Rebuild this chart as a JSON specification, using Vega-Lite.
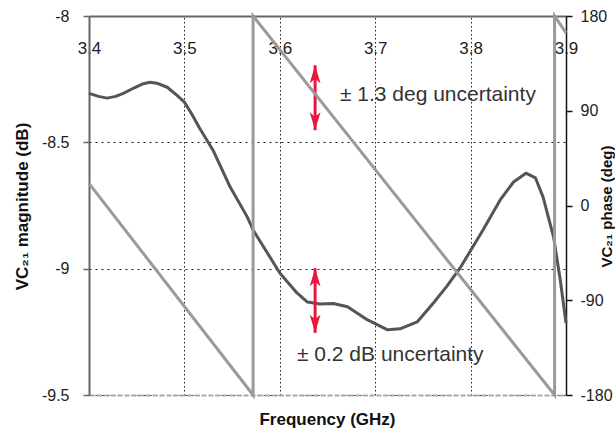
{
  "$schema": "https://vega.github.io/schema/vega-lite/v6.json",
  "width": 477,
  "height": 379,
  "autosize": {"type": "none"},
  "padding": {"left": 89, "top": 16, "right": 49, "bottom": 40},
  "background": "white",
  "config": {"view": {"stroke": null}, "font": "Liberation Sans"},
  "datasets": {
    "mag": [
      {"f": 3.400, "db": -8.306}, {"f": 3.410, "db": -8.318}, {"f": 3.419, "db": -8.325},
      {"f": 3.428, "db": -8.318}, {"f": 3.436, "db": -8.306}, {"f": 3.447, "db": -8.285},
      {"f": 3.457, "db": -8.268}, {"f": 3.464, "db": -8.262}, {"f": 3.471, "db": -8.266},
      {"f": 3.482, "db": -8.282}, {"f": 3.492, "db": -8.313}, {"f": 3.500, "db": -8.341},
      {"f": 3.508, "db": -8.390}, {"f": 3.516, "db": -8.444}, {"f": 3.530, "db": -8.531},
      {"f": 3.548, "db": -8.677}, {"f": 3.566, "db": -8.796}, {"f": 3.572, "db": -8.847},
      {"f": 3.587, "db": -8.938}, {"f": 3.600, "db": -9.017}, {"f": 3.618, "db": -9.096},
      {"f": 3.629, "db": -9.132}, {"f": 3.642, "db": -9.140}, {"f": 3.656, "db": -9.138},
      {"f": 3.671, "db": -9.151}, {"f": 3.692, "db": -9.203}, {"f": 3.713, "db": -9.242},
      {"f": 3.726, "db": -9.238}, {"f": 3.744, "db": -9.211}, {"f": 3.761, "db": -9.136},
      {"f": 3.775, "db": -9.070}, {"f": 3.789, "db": -8.997}, {"f": 3.813, "db": -8.847},
      {"f": 3.831, "db": -8.728}, {"f": 3.845, "db": -8.657}, {"f": 3.858, "db": -8.622},
      {"f": 3.868, "db": -8.641}, {"f": 3.876, "db": -8.717}, {"f": 3.887, "db": -8.875},
      {"f": 3.894, "db": -9.045}, {"f": 3.900, "db": -9.215}
    ],
    "phase": [
      {"i": 0, "f": 3.400, "deg": 21},
      {"i": 1, "f": 3.572, "deg": -180},
      {"i": 2, "f": 3.572, "deg": 180},
      {"i": 3, "f": 3.888, "deg": -180},
      {"i": 4, "f": 3.888, "deg": 180},
      {"i": 5, "f": 3.900, "deg": 164}
    ],
    "arrows": [
      {"f": 3.637, "db": -8.195, "db2": -8.452},
      {"f": 3.637, "db": -8.998, "db2": -9.254}
    ],
    "headsUp": [
      {"f": 3.637, "db": -8.195},
      {"f": 3.637, "db": -8.998}
    ],
    "headsDown": [
      {"f": 3.637, "db": -8.452},
      {"f": 3.637, "db": -9.254}
    ],
    "notes": [
      {"f": 3.663, "db": -8.314, "label": "± 1.3 deg uncertainty"},
      {"f": 3.618, "db": -9.341, "label": "± 0.2 dB uncertainty"}
    ]
  },
  "layer": [
    {
      "layer": [
        {
          "data": {"name": "mag"},
          "mark": {"type": "line", "color": "#555555", "strokeWidth": 3, "strokeJoin": "round"},
          "encoding": {
            "x": {
              "field": "f", "type": "quantitative",
              "scale": {"domain": [3.4, 3.9], "nice": false, "zero": false},
              "axis": {
                "orient": "top", "values": [3.4, 3.5, 3.6, 3.7, 3.8, 3.9], "format": ".1f",
                "title": null, "ticks": false, "labelPadding": -32, "labelBaseline": "middle",
                "labelFontSize": 17, "labelColor": "#222222", "labelFlush": false, "labelOverlap": false,
                "domainColor": "#666666", "domainWidth": 2,
                "grid": true, "gridColor": "#000000", "gridDash": [1.5, 2.5], "gridWidth": 1, "gridOpacity": 0.9
              }
            },
            "y": {
              "field": "db", "type": "quantitative",
              "scale": {"domain": [-9.5, -8], "nice": false, "zero": false},
              "axis": {
                "orient": "left", "values": [-8, -8.5, -9, -9.5],
                "labelExpr": "replace(format(datum.value, '~g'), '\u2212', '-')",
                "title": "VC₂₁ magnitude (dB)", "titleFontSize": 17, "titleFontWeight": "bold",
                "titleColor": "#111111", "titleAngle": 270, "titleX": -67, "titleY": 190,
                "titleBaseline": "middle", "titleAlign": "center",
                "labelFontSize": 16, "labelColor": "#222222", "labelPadding": 14,
                "tickSize": 6, "tickColor": "#666666", "tickWidth": 1.5,
                "domainColor": "#666666", "domainWidth": 2,
                "grid": true, "gridColor": "#000000", "gridDash": [2, 4], "gridWidth": 1, "gridOpacity": 0.9
              }
            }
          }
        },
        {
          "data": {"name": "arrows"},
          "mark": {"type": "rule", "color": "#e8173c", "strokeWidth": 3},
          "encoding": {
            "x": {"field": "f", "type": "quantitative"},
            "y": {"field": "db", "type": "quantitative"},
            "y2": {"field": "db2"}
          }
        },
        {
          "data": {"name": "headsUp"},
          "mark": {"type": "point", "shape": "M0,-1 L0.6,1 L0,0.5 L-0.6,1 Z", "filled": true, "opacity": 1, "color": "#e8173c", "size": 324, "yOffset": 9},
          "encoding": {
            "x": {"field": "f", "type": "quantitative"},
            "y": {"field": "db", "type": "quantitative"}
          }
        },
        {
          "data": {"name": "headsDown"},
          "mark": {"type": "point", "shape": "M0,1 L0.6,-1 L0,-0.5 L-0.6,-1 Z", "filled": true, "opacity": 1, "color": "#e8173c", "size": 324, "yOffset": -9},
          "encoding": {
            "x": {"field": "f", "type": "quantitative"},
            "y": {"field": "db", "type": "quantitative"}
          }
        },
        {
          "data": {"name": "notes"},
          "mark": {"type": "text", "align": "left", "baseline": "middle", "fontSize": 21, "color": "#333333", "font": "Liberation Sans"},
          "encoding": {
            "x": {"field": "f", "type": "quantitative"},
            "y": {"field": "db", "type": "quantitative"},
            "text": {"field": "label"}
          }
        }
      ]
    },
    {
      "data": {"name": "phase"},
      "mark": {"type": "line", "color": "#9a9a9a", "strokeWidth": 3},
      "encoding": {
        "x": {
          "field": "f", "type": "quantitative",
          "scale": {"domain": [3.4, 3.9], "nice": false, "zero": false},
          "axis": {
            "orient": "bottom", "labels": false, "ticks": false, "grid": false,
            "domainColor": "#aaaaaa", "domainDash": [5, 2], "domainWidth": 2,
            "title": "Frequency (GHz)", "titleFontSize": 17, "titleFontWeight": "bold", "titleColor": "#111111",
            "titleBaseline": "middle", "titleY": 24, "titleX": 238, "titleAlign": "center"
          }
        },
        "y": {
          "field": "deg", "type": "quantitative",
          "scale": {"domain": [-180, 180], "nice": false, "zero": false},
          "axis": {
            "orient": "right", "values": [180, 90, 0, -90, -180],
            "labelExpr": "replace(format(datum.value, '~g'), '\u2212', '-')",
            "title": "VC₂₁ phase (deg)", "titleFontSize": 15, "titleFontWeight": "bold", "titleColor": "#111111",
            "titleAngle": 270, "titleX": 40, "titleY": 190, "titleBaseline": "middle", "titleAlign": "center",
            "labelFontSize": 16, "labelColor": "#222222", "labelPadding": 8,
            "tickSize": 6, "tickColor": "#111111", "tickWidth": 1.5,
            "domainColor": "#111111", "domainWidth": 1.5, "grid": false
          }
        },
        "order": {"field": "i", "type": "quantitative"}
      }
    }
  ],
  "resolve": {
    "scale": {"x": "independent", "y": "independent"},
    "axis": {"x": "independent", "y": "independent"}
  }
}
